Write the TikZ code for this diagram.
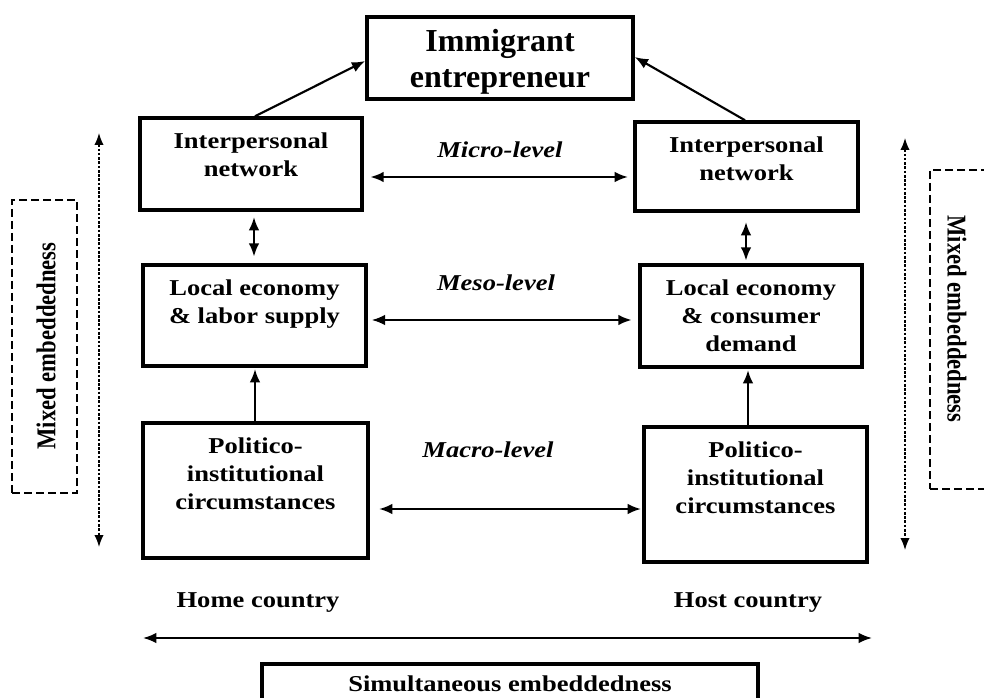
\documentclass[tikz,border=0pt]{standalone}
\usepackage{fontspec}
\setmainfont{Liberation Serif}
\newfontfamily\widefont{Liberation Serif}[FakeStretch=1.17]
\usetikzlibrary{arrows.meta,fit}

\begin{document}
\begin{tikzpicture}[x=0.75pt,y=-0.75pt,
  box/.style={draw, line width=2.6pt, inner sep=0pt},
  boxtext/.style={anchor=north, align=center, inner sep=0pt,
    font=\widefont\fontsize{17}{21}\selectfont\bfseries},
  lbl/.style={inner sep=0pt, font=\widefont\fontsize{17}{21}\selectfont\bfseries},
  lvl/.style={inner sep=0pt, font=\widefont\fontsize{17}{21}\selectfont\bfseries\itshape},
  arr/.style={-{Latex[length=10pt,width=8pt]}, line width=1.6pt},
  dbl/.style={{Latex[length=10pt,width=8pt]}-{Latex[length=10pt,width=8pt]}, line width=1.6pt},
  dotarr/.style={{Latex[length=9pt,width=7pt]}-{Latex[length=9pt,width=7pt]},
    line width=1.1pt, dash pattern=on 2pt off 1.2pt},
  dbox/.style={draw, line width=1.8pt, dash pattern=on 6pt off 3pt, inner sep=0pt},
  vtext/.style={inner sep=0pt, font=\fontsize{17}{21}\selectfont\bfseries}
]
\useasboundingbox (0,0) rectangle (984,698);
\clip (0,0) rectangle (984,698);

% top box
\node[box, fit={(367,17) (633,99)}] (top) {};
\node[inner sep=0pt, align=center, font=\fontsize{24}{27}\selectfont\bfseries]
  (toptxt) at ([yshift=-3pt]top.center) {Immigrant\\entrepreneur};

% home country column
\node[box, fit={(140,118) (362,210)}] (lnet) {};
\node[boxtext] (lnettxt) at ([yshift=-12pt]lnet.north) {Interpersonal\\network};
\node[box, fit={(143,265) (366,366)}] (lloc) {};
\node[boxtext] (lloctxt) at ([yshift=-12pt]lloc.north) {Local economy\\\& labor supply};
\node[box, fit={(143,423) (368,558)}] (lpol) {};
\node[boxtext] (lpoltxt) at ([yshift=-12pt]lpol.north) {Politico-\\institutional\\circumstances};

% host country column
\node[box, fit={(635,122) (858,211)}] (rnet) {};
\node[boxtext] (rnettxt) at ([yshift=-12pt]rnet.north) {Interpersonal\\network};
\node[box, fit={(640,265) (862,367)}] (rloc) {};
\node[boxtext] (rloctxt) at ([yshift=-12pt]rloc.north) {Local economy\\\& consumer\\demand};
\node[box, fit={(644,427) (867,562)}] (rpol) {};
\node[boxtext] (rpoltxt) at ([yshift=-12pt]rpol.north) {Politico-\\institutional\\circumstances};

% links to the entrepreneur
\draw[arr] (lnet.north -| 255,0) -- (top.west |- 0,61);
\draw[arr] (rnet.north -| 745,0) -- (top.east |- 0,57);

% level labels and horizontal links
\node[lvl] (micro) at (500,150) {Micro-level};
\node[lvl] (meso) at (496,283) {Meso-level};
\node[lvl] (macro) at (488,450) {Macro-level};
\draw[dbl, shorten <=5pt, shorten >=4pt] (lnet.east |- 0,177) -- (rnet.west |- 0,177);
\draw[dbl, shorten <=3pt, shorten >=5pt] (lloc.east |- 0,320) -- (rloc.west |- 0,320);
\draw[dbl, shorten <=7pt, shorten >=1pt] (lpol.east |- 0,509) -- (rpol.west |- 0,509);

% vertical links
\draw[dbl, shorten <=4pt, shorten >=5pt] (lnet.south -| 254,0) -- (lloc.north -| 254,0);
\draw[dbl, shorten <=7pt, shorten >=2pt] (rnet.south -| 746,0) -- (rloc.north -| 746,0);
\draw[arr, shorten >=1pt] (lpol.north -| 255,0) -- (lloc.south -| 255,0);
\draw[arr, shorten >=1pt] (rpol.north -| 748,0) -- (rloc.south -| 748,0);

% mixed embeddedness
\coordinate (ldt) at (99,133);
\coordinate (ldb) at (99,547);
\draw[dotarr] (ldt) -- (ldb);
\coordinate (rdt) at (905,138);
\coordinate (rdb) at (905,550);
\draw[dotarr] (rdt) -- (rdb);
\node[dbox, fit={(12,200) (77,493)}] (lmix) {};
\node[vtext, rotate=90] (lmixtxt) at (46,346) {\scalebox{1}[1.2]{Mixed embeddedness}};
\node[dbox, fit={(930,170) (998,489)}] (rmix) {};
\node[vtext, rotate=-90] (rmixtxt) at (957,319) {\scalebox{1}[1.2]{Mixed embeddedness}};

% countries and simultaneous embeddedness
\node[lbl] (home) at (258,603) {Home country};
\node[lbl] (host) at (748,603) {Host country};
\coordinate (sl) at (143,638);
\coordinate (sr) at (872,638);
\draw[dbl] (sl) -- (sr);
\node[box, fit={(262,664) (758,730)}] (simbox) {};
\node[lbl] (simtxt) at (510,684) {Simultaneous embeddedness};
\end{tikzpicture}
\end{document}
